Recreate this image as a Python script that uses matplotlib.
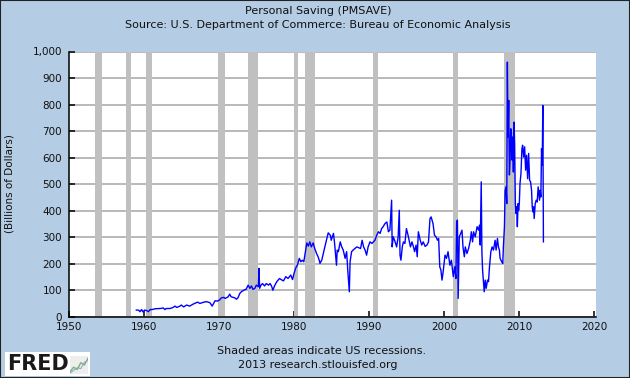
import matplotlib
matplotlib.use("Agg")
import matplotlib.pyplot as plt
from matplotlib.patches import Rectangle

# ---------------- data ----------------
years = [
    1959.00, 1959.30, 1959.50, 1959.70, 1959.90, 1960.10, 1960.40, 1960.60, 1960.85, 1961.10,
    1961.50, 1962.20, 1962.60, 1962.80, 1963.00, 1963.50, 1963.90, 1964.15, 1964.40, 1964.80,
    1965.00, 1965.30, 1965.70, 1966.10, 1966.60, 1967.00, 1967.20, 1967.45, 1967.90, 1968.30,
    1968.80, 1969.10, 1969.48, 1969.78, 1970.03, 1970.33, 1970.63, 1970.83, 1971.23, 1971.43,
    1971.63, 1972.13, 1972.33, 1972.53, 1972.78, 1973.03, 1973.33, 1973.63, 1973.89, 1974.13,
    1974.33, 1974.53, 1974.78, 1974.98, 1975.25, 1975.33, 1975.42, 1975.60, 1975.80, 1976.08,
    1976.30, 1976.60, 1976.80, 1977.00, 1977.18, 1977.40, 1977.70, 1978.06, 1978.40, 1978.60,
    1978.90, 1979.20, 1979.56, 1979.80, 1980.00, 1980.20, 1980.45, 1980.70, 1980.90, 1981.10,
    1981.30, 1981.55, 1981.70, 1981.90, 1982.10, 1982.30, 1982.55, 1982.75, 1983.00, 1983.20,
    1983.35, 1983.45, 1983.70, 1984.10, 1984.55, 1984.85, 1984.95, 1985.25, 1985.40, 1985.65,
    1985.75, 1985.90, 1986.15, 1986.35, 1986.55, 1986.80, 1987.00, 1987.15, 1987.36, 1987.46,
    1987.66, 1987.86, 1988.10, 1988.36, 1988.86, 1989.06, 1989.26, 1989.46, 1989.66, 1989.86,
    1990.11, 1990.36, 1990.76, 1991.01, 1991.23, 1991.46, 1991.66, 1991.86, 1992.11, 1992.36,
    1992.56, 1992.76, 1992.99, 1993.06, 1993.21, 1993.46, 1993.66, 1993.86, 1994.01, 1994.11,
    1994.23, 1994.41, 1994.56, 1994.76, 1994.96, 1995.18, 1995.50, 1995.70, 1995.90, 1996.05,
    1996.25, 1996.40, 1996.55, 1996.80, 1997.00, 1997.20, 1997.45, 1997.70, 1997.90, 1998.10,
    1998.25, 1998.50, 1998.70, 1998.90, 1999.10, 1999.25, 1999.40, 1999.55, 1999.70, 1999.85,
    2000.10, 2000.30, 2000.50, 2000.75, 2000.95, 2001.20, 2001.40, 2001.55, 2001.65, 2001.75,
    2001.85, 2002.00, 2002.36, 2002.49, 2002.67, 2002.80, 2003.02, 2003.24, 2003.47, 2003.60,
    2003.77, 2003.90, 2004.12, 2004.37, 2004.57, 2004.70, 2004.79, 2004.92, 2005.01, 2005.10,
    2005.23, 2005.32, 2005.45, 2005.58, 2005.76, 2005.89, 2006.02, 2006.20, 2006.37, 2006.55,
    2006.77, 2006.90, 2007.08, 2007.21, 2007.34, 2007.43, 2007.65, 2007.79, 2007.87, 2008.01,
    2008.10, 2008.23, 2008.32, 2008.40, 2008.49, 2008.58, 2008.67, 2008.76, 2008.85, 2008.93,
    2009.02, 2009.11, 2009.20, 2009.29, 2009.37, 2009.46, 2009.55, 2009.64, 2009.73, 2009.82,
    2009.90, 2009.99, 2010.08, 2010.21, 2010.34, 2010.43, 2010.57, 2010.70, 2010.83, 2010.96,
    2011.10, 2011.23, 2011.36, 2011.49, 2011.62, 2011.71, 2011.80, 2011.89, 2011.97, 2012.11,
    2012.24, 2012.37, 2012.50, 2012.59, 2012.68, 2012.77, 2012.86, 2012.95, 2013.04, 2013.12,
    2013.20,
]
saving = [
    26, 26, 20, 28, 19, 26, 24, 20, 28, 28,
    31, 32, 34, 28, 32, 32, 36, 41, 36, 41,
    45, 38, 45, 41, 49, 54, 56, 51, 55, 58,
    54, 41, 61, 60, 63, 72, 74, 70, 76, 86,
    76, 72, 67, 72, 89, 96, 101, 105, 120, 108,
    117, 104, 108, 120, 114, 183, 108, 120, 126, 117,
    126, 120, 126, 117, 101, 117, 133, 145, 139, 136,
    152, 145, 158, 141, 164, 183, 196, 221, 208, 214,
    208, 252, 279, 267, 283, 264, 279, 258, 239, 227,
    214, 202, 215, 264, 317, 307, 289, 315, 277, 195,
    252, 246, 283, 264, 252, 221, 246, 177, 95, 208,
    246, 252, 258, 264, 258, 289, 264, 252, 233, 264,
    283, 277, 289, 308, 321, 315, 333, 340, 352, 358,
    321, 327, 440, 264, 302, 283, 264, 302, 402, 233,
    214, 264, 283, 277, 333, 308, 264, 283, 264, 246,
    271, 227, 321, 289, 271, 283, 266, 271, 283, 371,
    377, 352, 308, 302, 289, 296, 189, 177, 139, 170,
    233, 221, 246, 195, 214, 152, 189, 145, 358, 365,
    70, 302, 327, 264, 227, 264, 239, 258, 289, 321,
    283, 321, 302, 340, 327, 346, 271, 509, 246, 177,
    127, 95, 139, 108, 139, 133, 189, 246, 264, 252,
    289, 252, 296, 264, 252, 221, 208, 202, 264, 340,
    477, 490, 427, 960, 678, 816, 535, 591, 709, 703,
    591, 678, 546, 734, 653, 427, 390, 415, 340, 427,
    402, 427, 502, 540, 634, 647, 603, 641, 553, 609,
    521, 616, 515, 509, 477, 415, 396, 415, 371, 427,
    440, 433, 490, 465, 440, 477, 452, 634, 572, 797,
    283,
]
recession_start = [1953.50, 1957.58, 1960.25, 1969.92, 1973.83, 1980.00, 1981.50, 1990.50, 2001.17, 2007.92]
recession_end   = [1954.42, 1958.33, 1961.08, 1970.83, 1975.17, 1980.50, 1982.83, 1991.17, 2001.83, 2009.42]
x_ticks = [1950, 1960, 1970, 1980, 1990, 2000, 2010, 2020]
y_ticks = [0, 100, 200, 300, 400, 500, 600, 700, 800, 900, 1000]
y_ticklabels = ["0", "100", "200", "300", "400", "500", "600", "700", "800", "900", "1,000"]

title1 = "Personal Saving (PMSAVE)"
title2 = "Source: U.S. Department of Commerce: Bureau of Economic Analysis"
ylabel = "(Billions of Dollars)"
note1 = "Shaded areas indicate US recessions."
note2 = "2013 research.stlouisfed.org"

# ---------------- figure ----------------
W, H = 630, 378
BG = "#B4CCE4"
plt.rcParams["font.family"] = ["DejaVu Sans"]
fig = plt.figure(figsize=(W / 100, H / 100), dpi=100, facecolor=BG)

ax_l, ax_r, ax_t, ax_b = 68.7, 596.0, 51.5, 317.0
ax = fig.add_axes([ax_l / W, 1 - ax_b / H, (ax_r - ax_l) / W, (ax_b - ax_t) / H])
ax.set_facecolor("white")
ax.set_xlim(1950, 2020.2)
ax.set_ylim(0, 1000)

ax.set_axisbelow(True)
ax.yaxis.grid(True, color="#A6A6A6", linewidth=1.1, zorder=0)
for s, e in zip(recession_start, recession_end):
    ax.axvspan(s, e, color="#C0C0C0", lw=0, zorder=1)
ax.plot(years, saving, color="#0000FF", lw=1.0, zorder=3)

for side in ("top", "right"):
    ax.spines[side].set_visible(False)
for side in ("left", "bottom"):
    ax.spines[side].set_color("black")
    ax.spines[side].set_linewidth(1.1)
    ax.spines[side].set_zorder(4)

ax.set_xticks(x_ticks)
ax.set_xticklabels([str(t) for t in x_ticks])
ax.set_yticks(y_ticks)
ax.set_yticklabels(y_ticklabels)
ax.tick_params(axis="both", direction="in", length=4, width=1.1, color="black",
               labelsize=7.5, labelcolor="#111111")
ax.tick_params(axis="y", pad=4.8)
ax.tick_params(axis="x", pad=3.8)

fig.text(10 / W, 1 - 184 / H, ylabel, rotation=90, ha="center", va="center",
         fontsize=7.5, color="#111111")
fig.text(318 / W, 1 - 11 / H, title1, ha="center", va="center", fontsize=8, color="#111111")
fig.text(318 / W, 1 - 25 / H, title2, ha="center", va="center", fontsize=8, color="#111111")
fig.text(322 / W, 1 - 351 / H, note1, ha="center", va="center", fontsize=8, color="#111111")
fig.text(318 / W, 1 - 365 / H, note2, ha="center", va="center", fontsize=8, color="#111111")

# FRED logo box
fig.patches.append(Rectangle((5 / W, 1 - 376 / H), 85 / W, 24 / H, transform=fig.transFigure,
                             facecolor="white", edgecolor="none", zorder=5))
fig.text(7 / W, 1 - 364 / H, "FRED", ha="left", va="center", fontsize=15,
         fontweight="bold", color="#1a1a1a", zorder=6)
icon = fig.add_axes([70 / W, 1 - 374 / H, 18 / W, 18 / H], zorder=6)
icon.set_facecolor("#EEEEEE")
icon.plot([0, 1, 2, 3, 4, 5], [0.5, 1.5, 1.0, 2.5, 2.0, 3.5], color="#7FB069", lw=1)
icon.plot([0, 1, 2, 3, 4, 5], [0.2, 0.8, 1.4, 1.2, 2.6, 3.0], color="#8FA8D8", lw=0.8)
icon.set_xlim(0, 5)
icon.set_ylim(0, 4)
icon.set_xticks([])
icon.set_yticks([])
for sp in icon.spines.values():
    sp.set_visible(False)

# outer border
fig.patches.append(Rectangle((0, 0), 1, 1, transform=fig.transFigure, facecolor="none",
                             edgecolor="#222222", lw=1.5, zorder=10))

fig.savefig("out.png", dpi=100, facecolor=BG)
